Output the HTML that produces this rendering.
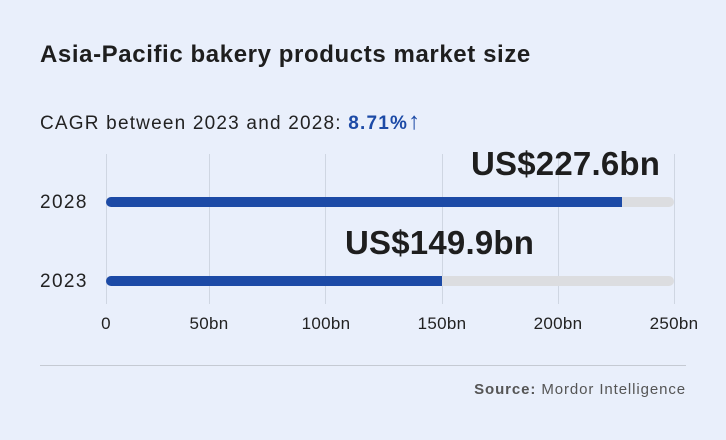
<!DOCTYPE html>
<html><head><style>
body{margin:0;width:726px;height:440px;background:#e9effb;font-family:"Liberation Sans",sans-serif;position:relative;overflow:hidden;color:#222}
.a{position:absolute}
.g{position:absolute;top:154px;height:150px;width:1px;background:#cfd6e2}
.t{position:absolute;top:314px;font-size:17px;letter-spacing:0.3px;color:#222;transform:translateX(-50%)}
.track{position:absolute;left:106px;width:568px;height:10px;border-radius:5px;background:#dcdde0}
.bar{position:absolute;left:106px;height:10px;border-radius:5px 0 0 5px;background:#1c4aa6}
.y{position:absolute;left:40px;font-size:19px;letter-spacing:1.4px}
</style></head><body>
<div class="a" style="left:40px;top:41px;font-size:24px;letter-spacing:0.6px;font-weight:bold;color:#1e1e1e">Asia-Pacific bakery products market size</div>
<div class="a" style="left:40px;top:108px;font-size:19px;letter-spacing:1.2px">CAGR between 2023 and 2028: <b style="color:#1c4aa6">8.71%<span style="font-size:24px">↑</span></b></div>
<div class="g" style="left:106px"></div>
<div class="g" style="left:209px"></div>
<div class="g" style="left:325px"></div>
<div class="g" style="left:442px"></div>
<div class="g" style="left:558px"></div>
<div class="g" style="left:674px"></div>
<div class="y" style="top:192px">2028</div>
<div class="y" style="top:271px">2023</div>
<div class="track" style="top:197px"></div><div class="bar" style="top:197px;width:516px"></div>
<div class="track" style="top:276px"></div><div class="bar" style="top:276px;width:336px"></div>
<div class="a" style="left:471px;top:145px;font-size:33px;letter-spacing:0.2px;font-weight:bold;color:#1e1e1e">US$227.6bn</div>
<div class="a" style="left:345px;top:224px;font-size:33px;letter-spacing:0.2px;font-weight:bold;color:#1e1e1e">US$149.9bn</div>
<div class="t" style="left:106px">0</div>
<div class="t" style="left:209px">50bn</div>
<div class="t" style="left:326px">100bn</div>
<div class="t" style="left:442px">150bn</div>
<div class="t" style="left:558px">200bn</div>
<div class="t" style="left:674px">250bn</div>
<div class="a" style="left:40px;top:365px;width:646px;height:1px;background:#c5cad3"></div>
<div class="a" style="right:40px;top:381px;font-size:15px;letter-spacing:0.9px;color:#555"><b>Source:</b> Mordor Intelligence</div>
</body></html>
